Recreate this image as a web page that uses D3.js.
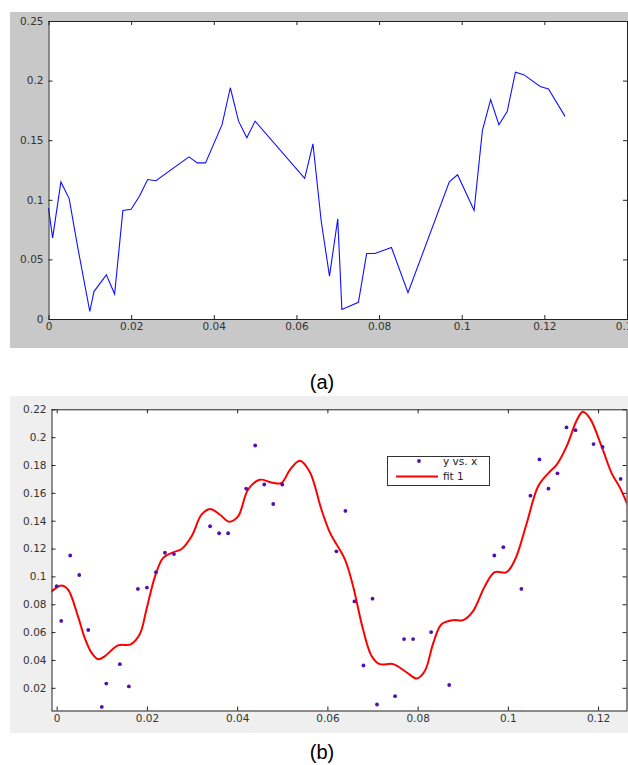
<!DOCTYPE html>
<html>
<head>
<meta charset="utf-8">
<script src="https://cdn.jsdelivr.net/npm/d3@7"></script>
<style>
body { margin: 0; background: #fff; }
svg { display: block; }
.tick text { font-family: "DejaVu Sans", sans-serif; font-size: 10.5px; fill: #333; }
</style>
</head>
<body>
<svg id="chart" width="628" height="765"></svg>
<script>
// data points (same for both panels)
const xs = [0, 0.001, 0.003, 0.005, 0.007, 0.010, 0.011, 0.014, 0.016, 0.018, 0.020, 0.022, 0.024, 0.026,
  0.034, 0.036, 0.038, 0.042, 0.044, 0.046, 0.048, 0.050, 0.062, 0.064, 0.066, 0.068, 0.070, 0.071,
  0.075, 0.077, 0.079, 0.083, 0.087, 0.097, 0.099, 0.103, 0.105, 0.107, 0.109, 0.111, 0.113, 0.115,
  0.119, 0.121, 0.125];
const ys = [0.093, 0.068, 0.115, 0.101, 0.0615, 0.0063, 0.023, 0.037, 0.021, 0.091, 0.092, 0.103, 0.117, 0.116,
  0.136, 0.131, 0.131, 0.163, 0.194, 0.166, 0.152, 0.166, 0.118, 0.147, 0.082, 0.036, 0.084, 0.008,
  0.014, 0.055, 0.055, 0.060, 0.022, 0.115, 0.121, 0.091, 0.158, 0.184, 0.163, 0.174, 0.207, 0.205,
  0.195, 0.193, 0.170];

// fit 1 curve
const fitX = [-0.0012, 0.001, 0.0025, 0.0047, 0.0062, 0.0077, 0.0092, 0.0107, 0.0136, 0.0164, 0.0184, 0.0199,
  0.0218, 0.0236, 0.0258, 0.0277, 0.0299, 0.0321, 0.034, 0.0362, 0.0382, 0.0402, 0.0424, 0.045, 0.0476,
  0.0498, 0.0517, 0.0539, 0.0561, 0.0587, 0.0606, 0.0639, 0.0657, 0.0679, 0.0698, 0.0716, 0.0746, 0.0776,
  0.0798, 0.0816, 0.0835, 0.0853, 0.0879, 0.0901, 0.0923, 0.0949, 0.0971, 0.0997, 0.1016, 0.1042, 0.1067,
  0.109, 0.1108, 0.113, 0.1153, 0.1166, 0.1182, 0.1208, 0.123, 0.1249, 0.1265];
const fitY = [0.089, 0.0935, 0.0906, 0.0715, 0.056, 0.0453, 0.0405, 0.0428, 0.0505, 0.0512, 0.0584, 0.0763,
  0.100, 0.1133, 0.1173, 0.1197, 0.1288, 0.1443, 0.1484, 0.1443, 0.1393, 0.1431, 0.1622, 0.1694, 0.1675,
  0.167, 0.1765, 0.183, 0.175, 0.1479, 0.1312, 0.1121, 0.093, 0.062, 0.0429, 0.037, 0.037, 0.031,
  0.0267, 0.0321, 0.0525, 0.0656, 0.0686, 0.0686, 0.0751, 0.093, 0.103, 0.103, 0.1121, 0.1384, 0.1646,
  0.1742, 0.1801, 0.1932, 0.2123, 0.2183, 0.2135, 0.1932, 0.1742, 0.1634, 0.1515];

// ticks
const aXTicks = [0, 0.02, 0.04, 0.06, 0.08, 0.1, 0.12, 0.14];
const aYTicks = [0, 0.05, 0.1, 0.15, 0.2, 0.25];
const bXTicks = [0, 0.02, 0.04, 0.06, 0.08, 0.1, 0.12];
const bYTicks = [0.02, 0.04, 0.06, 0.08, 0.1, 0.12, 0.14, 0.16, 0.18, 0.2, 0.22];
const legendLabels = ["y vs. x", "fit 1"];

const pts = xs.map((x, i) => ({ x: x, y: ys[i] }));
const fit = fitX.map((x, i) => ({ x: x, y: fitY[i] }));

const svg = d3.select("#chart");

function box(g, x, y, xTicks, yTicks, labels) {
  const [x0, x1] = x.range();
  const [y0, y1] = y.range();
  g.append("g")
    .attr("transform", `translate(0,${y0})`)
    .call(d3.axisBottom(x).tickValues(xTicks).tickSizeInner(-4).tickSizeOuter(0).tickPadding(4)
      .tickFormat(d => String(d)));
  g.append("g")
    .attr("transform", `translate(${x0},0)`)
    .call(d3.axisLeft(y).tickValues(yTicks).tickSizeInner(-4).tickSizeOuter(0).tickPadding(5)
      .tickFormat(d => String(d)));
  g.append("g")
    .attr("transform", `translate(0,${y1})`)
    .call(d3.axisTop(x).tickValues(xTicks).tickSizeInner(-4).tickSizeOuter(0).tickFormat(""));
  g.append("g")
    .attr("transform", `translate(${x1},0)`)
    .call(d3.axisRight(y).tickValues(yTicks).tickSizeInner(-4).tickSizeOuter(0).tickFormat(""));
  g.selectAll(".domain").remove();
  g.selectAll(".tick line").attr("stroke", "#222");
  g.append("rect")
    .attr("x", x0 + 0.5).attr("y", y1 + 0.5)
    .attr("width", x1 - x0).attr("height", y0 - y1)
    .attr("fill", "none").attr("stroke", "#222");
}

// ---------- panel (a) ----------
svg.append("rect").attr("x", 10).attr("y", 12).attr("width", 618).attr("height", 336).attr("fill", "#c8c8c8");
const xa = d3.scaleLinear().domain([0, 0.14]).range([48.5, 627]);
const ya = d3.scaleLinear().domain([0, 0.25]).range([319, 21]);
svg.append("rect").attr("x", 48.5).attr("y", 21).attr("width", 578.5).attr("height", 298).attr("fill", "#fff");

const ga = svg.append("g");
ga.append("path")
  .datum(pts)
  .attr("fill", "none")
  .attr("stroke", "#1010ff")
  .attr("stroke-width", 1.1)
  .attr("d", d3.line().x(d => xa(d.x)).y(d => ya(d.y)));
box(ga, xa, ya, aXTicks, aYTicks);

svg.append("text")
  .attr("x", 322).attr("y", 389)
  .attr("text-anchor", "middle")
  .attr("font-family", "Liberation Sans, Arial, sans-serif")
  .attr("font-size", 20)
  .text("(a)");

// ---------- panel (b) ----------
svg.append("rect").attr("x", 10).attr("y", 396).attr("width", 618).attr("height", 337).attr("fill", "#efefef");
const xb = d3.scaleLinear().domain([-0.00115, 0.1263]).range([51.5, 626.5]);
const yb = d3.scaleLinear().domain([0.0037, 0.22]).range([710.5, 409.3]);
svg.append("rect").attr("x", 51.5).attr("y", 409.3).attr("width", 575).attr("height", 301.2).attr("fill", "#fff");

svg.append("clipPath").attr("id", "clipb")
  .append("rect").attr("x", 51.5).attr("y", 409.3).attr("width", 575).attr("height", 301.2);

const gb = svg.append("g");
gb.append("path")
  .datum(fit)
  .attr("clip-path", "url(#clipb)")
  .attr("fill", "none")
  .attr("stroke", "#ff0000")
  .attr("stroke-width", 2)
  .attr("d", d3.line().curve(d3.curveCatmullRom).x(d => xb(d.x)).y(d => yb(d.y)));

gb.selectAll(".pt")
  .data(pts)
  .join("circle")
  .attr("class", "pt")
  .attr("cx", d => xb(d.x))
  .attr("cy", d => yb(d.y))
  .attr("r", 1.9)
  .attr("fill", "#5010b0");

box(gb, xb, yb, bXTicks, bYTicks);

// legend
const lg = svg.append("g");
lg.append("rect")
  .attr("x", 387.5).attr("y", 456.5).attr("width", 102).attr("height", 29)
  .attr("fill", "#fff").attr("stroke", "#333");
lg.append("circle").attr("cx", 419).attr("cy", 461).attr("r", 1.9).attr("fill", "#5010b0");
lg.append("line").attr("x1", 396).attr("x2", 438).attr("y1", 476.5).attr("y2", 476.5)
  .attr("stroke", "#ff0000").attr("stroke-width", 2);
lg.selectAll(".lt")
  .data(legendLabels)
  .join("text")
  .attr("class", "lt")
  .attr("x", 443)
  .attr("y", (d, i) => 465 + i * 15)
  .attr("font-family", "DejaVu Sans, sans-serif")
  .attr("font-size", 10.5)
  .attr("fill", "#222")
  .text(d => d);

svg.append("text")
  .attr("x", 322).attr("y", 759)
  .attr("text-anchor", "middle")
  .attr("font-family", "Liberation Sans, Arial, sans-serif")
  .attr("font-size", 20)
  .text("(b)");
</script>
</body>
</html>
